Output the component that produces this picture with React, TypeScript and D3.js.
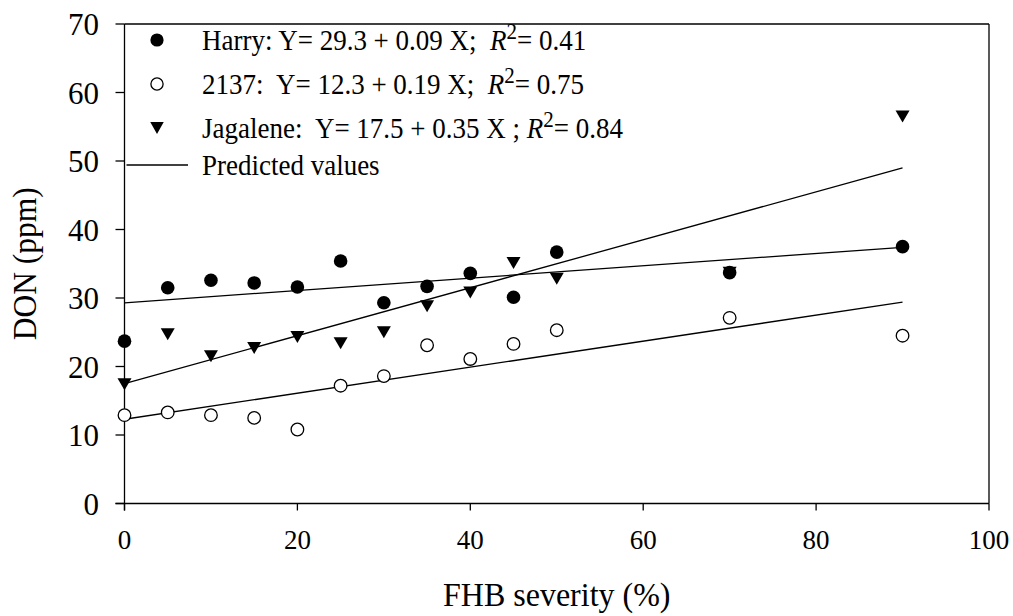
import React from "react";
import * as d3 from "d3";

const severity = [0, 5, 10, 15, 20, 25, 30, 35, 40, 45, 50, 70, 90];
const harry = [23.7, 31.5, 32.6, 32.2, 31.6, 35.4, 29.3, 31.7, 33.6, 30.1, 36.7, 33.7, 37.5];
const cv2137 = [12.9, 13.3, 12.9, 12.5, 10.8, 17.2, 18.6, 23.1, 21.1, 23.3, 25.3, 27.1, 24.5];
const jagalene = [17.4, 24.7, 21.5, 22.7, 24.3, 23.4, 25.0, 28.8, 30.8, 35.1, 32.8, 33.7, 56.5];

const fitNames = ["Harry", "2137", "Jagalene"];
const intercepts = [29.3, 12.3, 17.5];
const slopes = [0.09, 0.19, 0.35];
const fitRange = [0, 90];

const xTicks = [0, 20, 40, 60, 80, 100];
const yTicks = [0, 10, 20, 30, 40, 50, 60, 70];

const legendLabels = [
  { pre: "Harry: Y= 29.3 + 0.09 X;  ", r2: "= 0.41" },
  { pre: "2137:  Y= 12.3 + 0.19 X;  ", r2: "= 0.75" },
  { pre: "Jagalene:  Y= 17.5 + 0.35 X ; ", r2: "= 0.84" },
];

const W = 1013;
const H = 616;
const left = 124.5;
const right = 989;
const top = 24;
const bottom = 503.5;

const x = d3.scaleLinear().domain([0, 100]).range([left, right]);
const y = d3.scaleLinear().domain([0, 70]).range([bottom, top]);

const FONT = '"Liberation Serif", "Times New Roman", "DejaVu Serif", serif';

function triDown(cx: number, cy: number, w = 14, h = 12) {
  const p = d3.path();
  p.moveTo(cx - w / 2, cy - h / 2);
  p.lineTo(cx + w / 2, cy - h / 2);
  p.lineTo(cx, cy + h / 2);
  p.closePath();
  return p.toString();
}

function Txt(props: {
  x: number;
  y: number;
  size: number;
  sy?: number;
  anchor?: string;
  rotate?: number;
  children: React.ReactNode;
}) {
  const { x: tx, y: ty, size, sy = 1, anchor = "start", rotate = 0, children } = props;
  return (
    <text
      transform={`translate(${tx},${ty}) rotate(${rotate}) scale(1,${sy})`}
      fontSize={size}
      textAnchor={anchor}
      fill="#000"
      style={{ whiteSpace: "pre", fontFamily: FONT }}
    >
      {children}
    </text>
  );
}

export default function App() {
  const legendRows = [40, 84, 128];
  const legendLineY = 165;
  const legendMarkerX = 157;
  const legendTextX = 202;

  return (
    <svg
      width={W}
      height={H}
      style={{ position: "absolute", left: 0, top: 0, display: "block", background: "#fff" }}
    >
      <rect x={0} y={0} width={W} height={H} fill="#fff" />
      {/* frame */}
      <line x1={left} y1={top} x2={right} y2={top} stroke="#000" strokeWidth={1.3} />
      <line x1={right} y1={top} x2={right} y2={bottom} stroke="#000" strokeWidth={1.3} />
      <line x1={left} y1={top} x2={left} y2={bottom + 7} stroke="#000" strokeWidth={1.3} />
      <line x1={left - 9} y1={bottom} x2={right} y2={bottom} stroke="#000" strokeWidth={1.6} />

      {/* y ticks */}
      {yTicks.map((t) => (
        <g key={"yt" + t}>
          <line x1={left - 9} x2={left} y1={y(t)} y2={y(t)} stroke="#000" strokeWidth={1.3} />
          <Txt x={99} y={y(t) + 11} size={31} sy={1.05} anchor="end">
            {String(t)}
          </Txt>
        </g>
      ))}
      {/* x ticks */}
      {xTicks.map((t) => (
        <g key={"xt" + t}>
          <line x1={x(t)} x2={x(t)} y1={bottom} y2={bottom + 7} stroke="#000" strokeWidth={1.3} />
          <Txt x={x(t)} y={548.5} size={27} sy={1.05} anchor="middle">
            {String(t)}
          </Txt>
        </g>
      ))}

      {/* axis titles */}
      <Txt x={(left + right) / 2} y={606} size={32} sy={1.06} anchor="middle">
        FHB severity (%)
      </Txt>
      <Txt x={36} y={(top + bottom) / 2} size={31.5} sy={1.05} anchor="middle" rotate={-90}>
        DON (ppm)
      </Txt>

      {/* regression lines */}
      {fitNames.map((n, i) => (
        <path
          key={"fit" + n}
          d={
            d3
              .line<number>()
              .x((d) => x(d))
              .y((d) => y(intercepts[i] + slopes[i] * d))(fitRange) as string
          }
          fill="none"
          stroke="#000"
          strokeWidth={1.3}
        />
      ))}

      {/* Jagalene triangles */}
      {severity.map((s, i) => (
        <path key={"j" + i} d={triDown(x(s), y(jagalene[i]))} fill="#000" />
      ))}
      {/* 2137 open circles */}
      {severity.map((s, i) => (
        <circle key={"o" + i} cx={x(s)} cy={y(cv2137[i])} r={6.3} fill="#fff" stroke="#000" strokeWidth={1.3} />
      ))}
      {/* Harry filled circles */}
      {severity.map((s, i) => (
        <circle key={"h" + i} cx={x(s)} cy={y(harry[i])} r={6.8} fill="#000" />
      ))}

      {/* legend */}
      <circle cx={legendMarkerX} cy={legendRows[0]} r={6.6} fill="#000" />
      <circle cx={legendMarkerX} cy={legendRows[1]} r={6.1} fill="#fff" stroke="#000" strokeWidth={1.3} />
      <path d={triDown(legendMarkerX, legendRows[2], 13.5, 12)} fill="#000" />
      <line x1={left + 2} x2={188} y1={legendLineY} y2={legendLineY} stroke="#000" strokeWidth={1.3} />
      {legendLabels.map((l, i) => (
        <Txt key={"lg" + i} x={legendTextX} y={legendRows[i] + 10} size={27} sy={1.13}>
          {l.pre}
          <tspan fontStyle="italic">R</tspan>
          <tspan fontSize={21} dy={-10}>2</tspan>
          <tspan dy={10}>{l.r2}</tspan>
        </Txt>
      ))}
      <Txt x={legendTextX} y={legendLineY + 10} size={27} sy={1.13}>
        Predicted values
      </Txt>
    </svg>
  );
}
